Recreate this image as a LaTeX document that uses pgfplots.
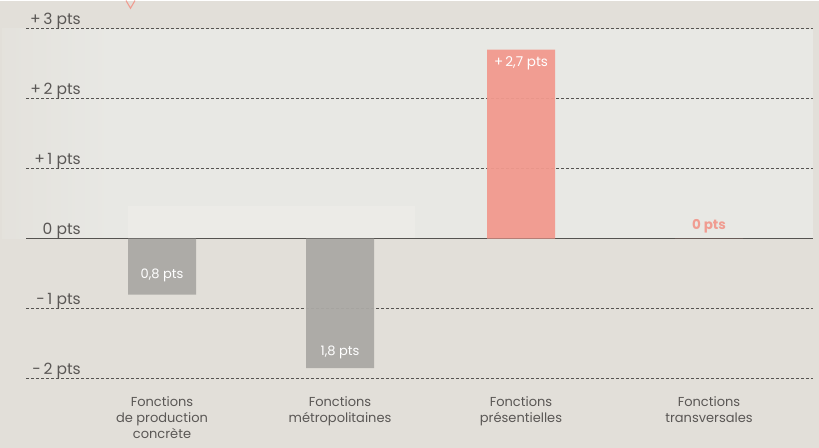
\documentclass[border=0pt]{standalone}
\usepackage{fontspec}
\setmainfont{Poppins}
\usepackage{pgfplots}
\pgfplotsset{compat=1.18}
\definecolor{bg}{HTML}{E2DFD9}
\definecolor{band}{HTML}{E8E8E4}
\definecolor{patch}{HTML}{ECEBE7}
\definecolor{txt}{HTML}{5A5755}
\definecolor{zero}{HTML}{555350}
\definecolor{gbar}{HTML}{ABA9A5}
\definecolor{rbar}{HTML}{F29A8E}
\definecolor{salmon}{HTML}{F09C91}

\begin{document}
\begin{tikzpicture}
\begin{axis}[
  width=819pt, height=447pt, scale only axis,
  xmin=0, xmax=819, ymin=-2.9857, ymax=3.4,
  hide axis, clip=false,
  ]
  % background and light band
  \fill[bg] (axis cs:0,-2.9857) rectangle (axis cs:819,3.4);
  \shade[left color=bg!70!band, right color=band] (axis cs:2,0) rectangle (axis cs:110,3);
  \fill[band] (axis cs:110,0) rectangle (axis cs:813,3);
  \fill[patch] (axis cs:128,0) rectangle (axis cs:415,0.47);
  % grid
  \pgfplotsinvokeforeach{-2,-1,1,2,3}{
    \draw[zero, dash pattern=on 3pt off 2pt, line width=0.8pt] (axis cs:26,#1) -- (axis cs:813,#1);
  }
  \draw[zero, line width=1.6pt] (axis cs:26,0) -- (axis cs:813,0);
  % y labels
  \tikzset{yl/.style={anchor=base east, font=\fontsize{15.5}{17}\selectfont, text=txt, inner sep=0pt}}
  \node[yl] at (axis cs:81,3.057) {+\,3 pts};
  \node[yl] at (axis cs:81,2.057) {+\,2 pts};
  \node[yl] at (axis cs:81,1.057) {+\,1 pts};
  \node[yl] at (axis cs:81,0.057) {0 pts};
  \node[yl] at (axis cs:81,-0.943) {-\,1 pts};
  \node[yl] at (axis cs:81,-1.943) {-\,2 pts};
  % bars
  \addplot[ybar, bar width=68pt, bar shift=0pt, fill=gbar, draw=none, fill opacity=0.95]
    coordinates {(162,-0.8) (340,-1.85)};
  \addplot[ybar, bar width=68pt, bar shift=0pt, fill=rbar, draw=none, fill opacity=0.95]
    coordinates {(521,2.7) (709,0)};
  % bar labels
  \node[text=white, font=\fontsize{13}{15}\selectfont, inner sep=0pt] at (axis cs:162,-0.53) {0,8 pts};
  \node[text=white, font=\fontsize{13}{15}\selectfont, inner sep=0pt] at (axis cs:340,-1.63) {1,8 pts};
  \node[text=white, font=\fontsize{13.5}{15}\selectfont, inner sep=0pt] at (axis cs:521,2.51) {+\,2,7 pts};
  \node[text=salmon, font=\fontsize{13.5}{15}\selectfont\bfseries, inner sep=0pt] at (axis cs:709,0.17) {0 pts};
  % marker at top
  \draw[salmon, line width=1.1pt] (axis cs:126,3.4) -- (axis cs:130.5,3.29) -- (axis cs:135,3.4);
  % categories
  \tikzset{cl/.style={anchor=north, align=center, text=txt, font=\fontsize{13}{16}\selectfont, inner sep=0pt}}
  \node[cl] at (axis cs:162,-2.25) {Fonctions\\de production\\concrète};
  \node[cl] at (axis cs:340,-2.25) {Fonctions\\métropolitaines};
  \node[cl] at (axis cs:521,-2.25) {Fonctions\\présentielles};
  \node[cl] at (axis cs:709,-2.25) {Fonctions\\transversales};
\end{axis}
\end{tikzpicture}
\end{document}
